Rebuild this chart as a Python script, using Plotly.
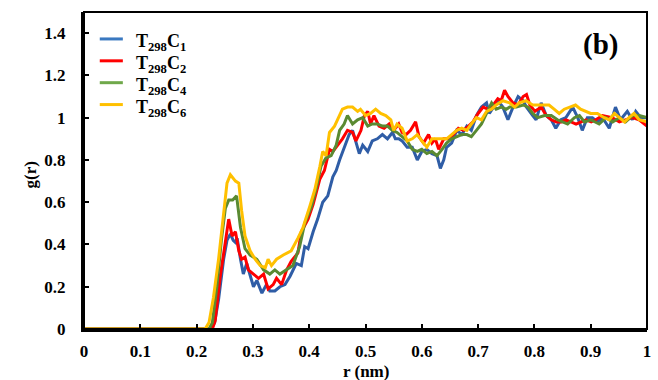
import plotly.graph_objects as go

# Radial distribution functions g(r) for four systems
r_c1 = [0, 0.225, 0.232, 0.239, 0.248, 0.254, 0.260, 0.265, 0.269, 0.272, 0.278, 0.283, 0.289, 0.295, 0.301,
        0.307, 0.316, 0.324, 0.330, 0.339, 0.348, 0.357, 0.366, 0.377, 0.386, 0.392, 0.398, 0.407, 0.415, 0.424,
        0.433, 0.442, 0.448, 0.454, 0.462, 0.471, 0.477, 0.483, 0.489, 0.495, 0.504, 0.512, 0.521, 0.530, 0.539,
        0.548, 0.553, 0.559, 0.565, 0.574, 0.583, 0.592, 0.600, 0.609, 0.618, 0.627, 0.633, 0.639, 0.644, 0.653,
        0.662, 0.671, 0.680, 0.688, 0.697, 0.706, 0.715, 0.720, 0.727, 0.735, 0.744, 0.753, 0.762, 0.771, 0.780,
        0.786, 0.797, 0.803, 0.812, 0.821, 0.830, 0.838, 0.847, 0.856, 0.868, 0.877, 0.885, 0.894, 0.903, 0.912,
        0.921, 0.933, 0.944, 0.953, 0.965, 0.974, 0.980, 0.989, 1.0]
g_c1 = [0, 0, 0.03, 0.14, 0.33, 0.42, 0.45, 0.42, 0.41, 0.43, 0.33, 0.26, 0.31, 0.25, 0.20,
        0.23, 0.17, 0.21, 0.18, 0.18, 0.20, 0.21, 0.25, 0.31, 0.30, 0.39, 0.38, 0.46, 0.52, 0.60,
        0.63, 0.72, 0.75, 0.80, 0.86, 0.92, 0.94, 0.88, 0.83, 0.87, 0.84, 0.89, 0.90, 0.92, 0.90,
        0.93, 0.90, 0.90, 0.89, 0.86, 0.86, 0.80, 0.84, 0.85, 0.83, 0.82, 0.76, 0.80, 0.86, 0.88,
        0.94, 0.92, 0.96, 0.94, 1.01, 1.05, 1.07, 1.02, 1.05, 1.08, 1.05, 0.99, 1.05, 1.10, 1.08,
        1.05, 1.01, 0.99, 1.07, 1.01, 0.99, 0.95, 0.99, 1.00, 1.05, 1.00, 0.94, 1.00, 1.00, 0.98,
        1.00, 0.95, 1.05, 0.99, 1.03, 0.99, 1.03, 1.00, 1.00]

r_c2 = [0, 0.228, 0.233, 0.242, 0.251, 0.257, 0.263, 0.269, 0.275, 0.280, 0.286, 0.292, 0.301, 0.310, 0.319,
        0.327, 0.336, 0.342, 0.351, 0.360, 0.368, 0.380, 0.386, 0.398, 0.407, 0.419, 0.427, 0.436, 0.442, 0.451,
        0.459, 0.468, 0.477, 0.483, 0.492, 0.498, 0.504, 0.509, 0.515, 0.524, 0.533, 0.542, 0.550, 0.559, 0.565,
        0.572, 0.580, 0.589, 0.595, 0.603, 0.612, 0.618, 0.624, 0.630, 0.639, 0.648, 0.656, 0.665, 0.674, 0.683,
        0.691, 0.700, 0.709, 0.718, 0.727, 0.735, 0.741, 0.747, 0.753, 0.762, 0.771, 0.780, 0.786, 0.792, 0.801,
        0.812, 0.821, 0.830, 0.839, 0.848, 0.856, 0.865, 0.874, 0.883, 0.892, 0.901, 0.909, 0.921, 0.938, 0.951,
        0.962, 0.974, 0.986, 1.0]
g_c2 = [0, 0, 0.04, 0.25, 0.41, 0.52, 0.44, 0.46, 0.37, 0.33, 0.34, 0.28, 0.26, 0.24, 0.26,
        0.19, 0.21, 0.24, 0.21, 0.28, 0.32, 0.36, 0.46, 0.52, 0.59, 0.71, 0.75, 0.85, 0.84, 0.87,
        0.90, 0.94, 0.93, 0.89, 0.94, 1.01, 1.03, 0.97, 1.01, 0.96, 0.95, 0.97, 0.94, 0.97, 0.93,
        0.92, 0.94, 0.98, 0.91, 0.88, 0.92, 0.88, 0.90, 0.85, 0.90, 0.90, 0.92, 0.95, 0.94, 0.96,
        0.98, 1.02, 1.05, 1.04, 1.06, 1.09, 1.08, 1.13, 1.10, 1.07, 1.06, 1.10, 1.11, 1.06, 1.03,
        1.05, 1.01, 0.99, 0.98, 0.98, 0.99, 0.98, 0.97, 0.98, 0.99, 0.98, 0.99, 1.01, 1.00, 0.98,
        0.99, 1.00, 0.99, 0.96]

r_c4 = [0, 0.222, 0.228, 0.236, 0.244, 0.251, 0.257, 0.264, 0.271, 0.278, 0.286, 0.295, 0.307, 0.319, 0.330,
        0.339, 0.348, 0.360, 0.371, 0.383, 0.392, 0.404, 0.412, 0.421, 0.430, 0.439, 0.448, 0.454, 0.462, 0.468,
        0.477, 0.486, 0.495, 0.504, 0.512, 0.521, 0.530, 0.539, 0.548, 0.556, 0.565, 0.574, 0.583, 0.592, 0.600,
        0.609, 0.618, 0.627, 0.636, 0.644, 0.653, 0.662, 0.671, 0.680, 0.688, 0.697, 0.706, 0.715, 0.724, 0.732,
        0.741, 0.750, 0.756, 0.768, 0.780, 0.789, 0.797, 0.806, 0.818, 0.830, 0.841, 0.850, 0.859, 0.871, 0.880,
        0.889, 0.900, 0.915, 0.927, 0.939, 0.951, 0.962, 0.974, 0.986, 1.0]
g_c4 = [0, 0, 0.03, 0.20, 0.42, 0.57, 0.61, 0.61, 0.63, 0.48, 0.38, 0.35, 0.33, 0.28, 0.26,
        0.28, 0.26, 0.28, 0.30, 0.39, 0.50, 0.58, 0.66, 0.77, 0.81, 0.82, 0.87, 0.94, 0.97, 1.01,
        0.97, 0.99, 1.00, 0.96, 0.97, 0.97, 0.96, 0.96, 0.94, 0.93, 0.91, 0.89, 0.85, 0.84, 0.85,
        0.83, 0.84, 0.82, 0.85, 0.88, 0.90, 0.91, 0.92, 0.92, 0.91, 0.94, 0.97, 1.02, 1.07, 1.04,
        1.05, 1.04, 1.05, 1.05, 1.06, 1.05, 1.02, 1.00, 1.01, 1.01, 0.99, 0.98, 0.97, 1.00, 1.01,
        0.98, 0.99, 0.97, 1.00, 0.98, 1.00, 0.98, 1.01, 1.01, 1.00]

r_c6 = [0, 0.215, 0.222, 0.230, 0.239, 0.248, 0.254, 0.260, 0.265, 0.269, 0.275, 0.280, 0.286, 0.295, 0.304,
        0.313, 0.322, 0.327, 0.333, 0.342, 0.354, 0.368, 0.380, 0.389, 0.401, 0.410, 0.419, 0.424, 0.430, 0.436,
        0.445, 0.454, 0.459, 0.468, 0.477, 0.486, 0.491, 0.500, 0.509, 0.518, 0.527, 0.536, 0.545, 0.550, 0.556,
        0.565, 0.574, 0.583, 0.592, 0.600, 0.609, 0.618, 0.627, 0.636, 0.644, 0.653, 0.662, 0.671, 0.680, 0.688,
        0.697, 0.706, 0.715, 0.724, 0.732, 0.744, 0.756, 0.765, 0.773, 0.785, 0.797, 0.806, 0.815, 0.826, 0.835,
        0.844, 0.853, 0.862, 0.873, 0.882, 0.891, 0.900, 0.912, 0.924, 0.933, 0.942, 0.951, 0.960, 0.968, 0.977,
        0.986, 1.0]
g_c6 = [0, 0, 0.03, 0.15, 0.33, 0.56, 0.69, 0.73, 0.71, 0.70, 0.69, 0.56, 0.44, 0.37, 0.33,
        0.30, 0.29, 0.33, 0.30, 0.33, 0.35, 0.37, 0.43, 0.48, 0.58, 0.66, 0.77, 0.84, 0.82, 0.93,
        0.96, 1.01, 1.04, 1.05, 1.05, 1.03, 1.04, 1.01, 1.02, 1.04, 1.02, 1.01, 0.99, 0.94, 0.97,
        0.95, 0.89, 0.90, 0.92, 0.89, 0.86, 0.90, 0.90, 0.90, 0.90, 0.92, 0.94, 0.95, 0.94, 0.97,
        1.00, 0.99, 1.03, 1.04, 1.06, 1.08, 1.07, 1.05, 1.07, 1.08, 1.06, 1.06, 1.06, 1.06, 1.04,
        1.02, 1.04, 1.05, 1.06, 1.04, 1.03, 1.02, 1.02, 1.00, 0.99, 1.02, 1.00, 0.98, 1.00, 1.02,
        0.99, 0.98]

series_names = ["T<sub>298</sub>C<sub>1</sub>", "T<sub>298</sub>C<sub>2</sub>",
                "T<sub>298</sub>C<sub>4</sub>", "T<sub>298</sub>C<sub>6</sub>"]
series_colors = ["#2F5DA6", "#FF0000", "#5A8A32", "#FFC000"]
legend_colors = ["#3A78C0", "#FF0000", "#6FA84A", "#FFC000"]
series_r = [r_c1, r_c2, r_c4, r_c6]
series_g = [g_c1, g_c2, g_c4, g_c6]

x_ticks = [0, 0.1, 0.2, 0.3, 0.4, 0.5, 0.6, 0.7, 0.8, 0.9, 1]
y_ticks = [0, 0.2, 0.4, 0.6, 0.8, 1, 1.2, 1.4]

FONT = "Liberation Serif"

fig = go.Figure()
for name, color, rx, gy in zip(series_names, series_colors, series_r, series_g):
    fig.add_trace(go.Scatter(x=rx, y=gy, mode="lines", name=name, showlegend=False,
                             line=dict(color=color, width=3)))

axis_common = dict(
    showgrid=False, zeroline=False, showline=True, linecolor="black", linewidth=3,
    ticks="inside", ticklen=5, tickwidth=2, tickcolor="black",
    tickfont=dict(family=FONT, size=17, color="black", weight="bold"),
)

fig.update_xaxes(range=[0, 1], tickvals=x_ticks, ticktext=[str(v) for v in x_ticks],
                 ticklabelstandoff=5, **axis_common)
fig.update_yaxes(range=[0, 1.5], tickvals=y_ticks, ticktext=[f"{v:g}" for v in y_ticks],
                 ticklabelstandoff=12, **axis_common)

# Legend block: a short line sample and a label per series, stacked top-left
legend_shapes = []
legend_notes = []
legend_top = 0.915
legend_step = 0.069
for i, (name, color) in enumerate(zip(series_names, legend_colors)):
    yy = legend_top - i * legend_step
    legend_shapes.append(dict(type="line", xref="paper", yref="paper",
                              x0=0.028, x1=0.069, y0=yy, y1=yy,
                              line=dict(color=color, width=3)))
    legend_notes.append(dict(text=name, x=0.088, y=yy - 0.012, xref="paper", yref="paper",
                             xanchor="left", yanchor="middle", showarrow=False,
                             font=dict(family=FONT, size=18, color="black", weight="bold")))

fig.update_layout(
    width=658, height=380,
    margin=dict(l=84, r=7, t=12, b=51),
    paper_bgcolor="white", plot_bgcolor="white",
    showlegend=False,
    shapes=[dict(type="rect", xref="paper", yref="paper", x0=0, y0=0, x1=1, y1=1,
                 line=dict(color="black", width=2), layer="above")] + legend_shapes,
    annotations=[
        dict(text="r (nm)", x=0.5, y=-0.134, xref="paper", yref="paper",
             xanchor="center", yanchor="middle", showarrow=False,
             font=dict(family=FONT, size=17, color="black", weight="bold")),
        dict(text="g(r)", x=-0.095, y=0.486, xref="paper", yref="paper", textangle=-90,
             xanchor="center", yanchor="middle", showarrow=False,
             font=dict(family=FONT, size=17, color="black", weight="bold")),
        dict(text="(b)", x=0.918, y=0.896, xref="paper", yref="paper",
             xanchor="center", yanchor="middle", showarrow=False,
             font=dict(family=FONT, size=29, color="black", weight="bold")),
    ] + legend_notes,
)

fig.write_html("out.html")
